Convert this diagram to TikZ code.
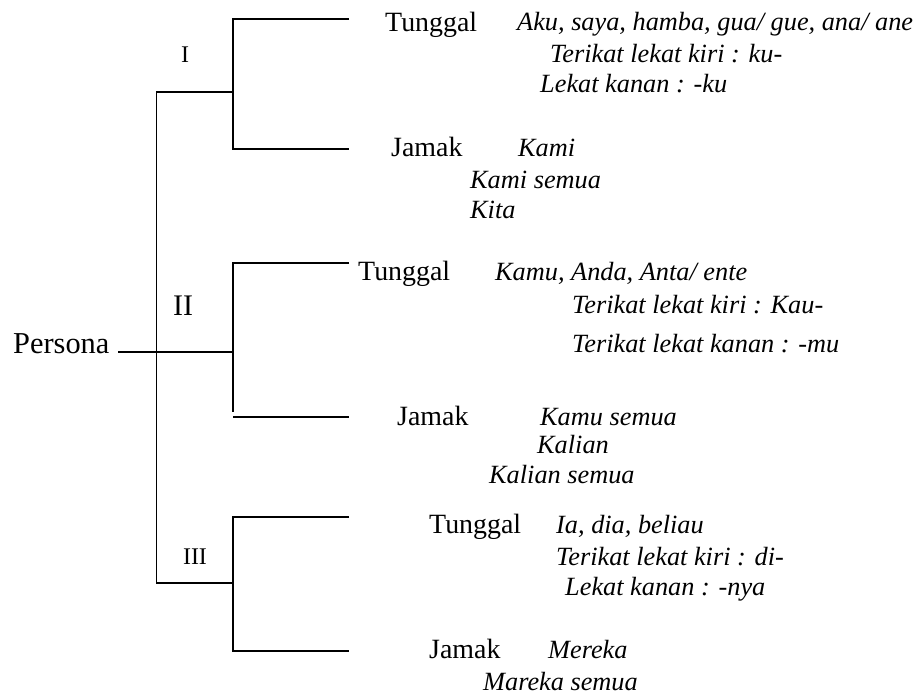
\documentclass[tikz,border=0pt]{standalone}
\usepackage{fontspec}
\setmainfont{Liberation Serif}
\begin{document}
\begin{tikzpicture}[x=1bp,y=-1bp,
  tree/.style={line width=1.5bp, line join=miter},
  kind/.style={anchor=base west, inner sep=0pt, font=\fontsize{28}{30}\selectfont},
  word/.style={anchor=base west, inner sep=0pt, font=\fontsize{26.4}{28}\selectfont\itshape},
  grade/.style={anchor=center, inner sep=0pt},
  root/.style={anchor=base west, inner sep=0pt, font=\fontsize{30.5}{32}\selectfont}]
\useasboundingbox (0,0) rectangle (922,695);

% root
\node[root] (persona) at (13,353) {Persona};
\coordinate (pend) at (118,352);

% trunk and junctions
\coordinate (m1) at (156.5,92);
\coordinate (m3) at (156.5,583);
\coordinate (j1) at (233,92);
\coordinate (j2) at (233,352);
\coordinate (j3) at (233,583);

% bracket ends
\coordinate (a1) at (233,19);  \coordinate (a1e) at (349,19);
\coordinate (b1) at (233,149); \coordinate (b1e) at (349,149);
\coordinate (a2) at (233,263); \coordinate (a2e) at (349,263);
\coordinate (b2) at (233,412);
\coordinate (c2) at (233,417); \coordinate (c2e) at (349,417);
\coordinate (a3) at (233,517); \coordinate (a3e) at (349,517);
\coordinate (b3) at (233,651); \coordinate (b3e) at (349,651);

% person numbers
\node[grade, font=\fontsize{24}{26}\selectfont] (p1) at (185,55) {I};
\node[grade, font=\fontsize{30}{32}\selectfont] (p2) at (183,306) {II};
\node[grade, font=\fontsize{24}{26}\selectfont] (p3) at (195,557) {III};

% lines
\draw[tree] (j1) -- (m1) -- (m3) -- (j3);
\draw[tree] (pend) -- (j2);
\draw[tree] (a1e) -- (a1) -- (b1) -- (b1e);
\draw[tree] (a2e) -- (a2) -- (b2);
\draw[tree] (c2) -- (c2e);
\draw[tree] (a3e) -- (a3) -- (b3) -- (b3e);

% first person
\node[kind] (t1) at (385,32) {Tunggal};
\node[word] (t1a) at (517,31) {Aku, saya, hamba, gua/ gue, ana/ ane};
\node[word] (t1b) at (550,63) {Terikat lekat kiri : ku-};
\node[word] (t1c) at (540,93) {Lekat kanan : -ku};
\node[kind] (j1t) at (391,157) {Jamak};
\node[word] (j1a) at (518,157) {Kami};
\node[word] (j1b) at (470,188) {Kami semua};
\node[word] (j1c) at (470,218) {Kita};

% second person
\node[kind] (t2) at (358,280) {Tunggal};
\node[word] (t2a) at (495,280) {Kamu, Anda, Anta/ ente};
\node[word] (t2b) at (572,313) {Terikat lekat kiri : Kau-};
\node[word] (t2c) at (572,352) {Terikat lekat kanan : -mu};
\node[kind] (j2t) at (397,425) {Jamak};
\node[word] (j2a) at (540,425) {Kamu semua};
\node[word] (j2b) at (537,453) {Kalian};
\node[word] (j2c) at (489,483) {Kalian semua};

% third person
\node[kind] (t3) at (429,533) {Tunggal};
\node[word] (t3a) at (556,533) {Ia, dia, beliau};
\node[word] (t3b) at (556,565) {Terikat lekat kiri : di-};
\node[word] (t3c) at (565,595) {Lekat kanan : -nya};
\node[kind] (j3t) at (429,658) {Jamak};
\node[word] (j3a) at (548,658) {Mereka};
\node[word] (j3b) at (483,690) {Mareka semua};
\end{tikzpicture}
\end{document}
